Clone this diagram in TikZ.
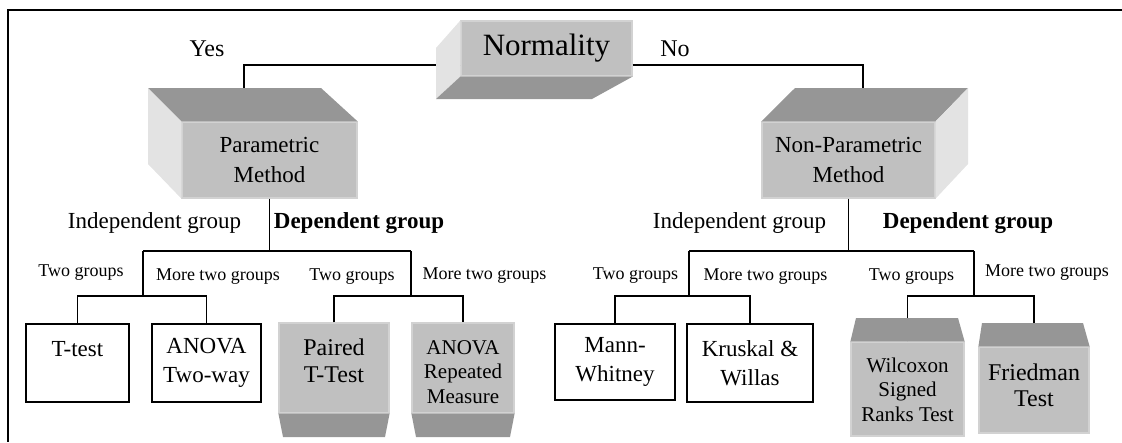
\documentclass[tikz,border=0pt]{standalone}
\usepackage{fontspec}
\setmainfont{Liberation Serif}
\definecolor{boxfront}{HTML}{C0C0C0}
\definecolor{boxedge}{HTML}{D2D2D2}
\definecolor{boxdark}{HTML}{969696}
\definecolor{boxlight}{HTML}{E3E3E3}
\begin{document}
\begin{tikzpicture}[x=1pt,y=-1pt,
  conn/.style={line width=1.6pt},
  face/.style={fill=boxfront, draw=boxedge, line width=1.2pt, inner sep=0pt, align=center},
  plainbox/.style={draw, line width=1.6pt, fill=white, inner sep=0pt, align=center,
                   font=\fontsize{23}{29}\selectfont},
  boxtxt/.style={inner sep=0pt, align=center},
  big/.style={inner sep=0pt, font=\fontsize{23}{27}\selectfont},
  small/.style={inner sep=0pt, font=\fontsize{18}{21}\selectfont}]
\useasboundingbox (0,0) rectangle (1122,442);

% frame
\draw[line width=2pt] (1122,10) -- (8,10) -- (8,442);

% front faces of the shaded boxes
\node[face, minimum width=171pt, minimum height=55pt, font=\fontsize{31}{35}\selectfont]
  (norm) at (546.5,48.5) {Normality};
\node[face, minimum width=175pt, minimum height=76pt, font=\fontsize{23}{30}\selectfont]
  (param) at (269.5,160) {Parametric\\Method};
\node[face, minimum width=173pt, minimum height=76pt, font=\fontsize{23}{30}\selectfont]
  (nonparam) at (848.5,160) {Non-Parametric\\Method};
\node[face, minimum width=110pt, minimum height=90pt] (paired) at (334,368) {};
\node[face, minimum width=102pt, minimum height=90pt] (anovar) at (463,368) {};
\node[face, minimum width=113pt, minimum height=94pt] (wil) at (907.5,389) {};
\node[face, minimum width=110pt, minimum height=86pt] (fried) at (1034,390) {};

% plain boxes
\node[plainbox, minimum width=103pt, minimum height=78pt] (ttest) at (77.5,363) {T-test\\{}};
\node[plainbox, minimum width=109pt, minimum height=78pt] (anova) at (206.5,363) {ANOVA\\Two-way};
\node[plainbox, minimum width=120pt, minimum height=76pt] (mann) at (615,362) {Mann-\\Whitney};
\node[plainbox, minimum width=126pt, minimum height=78pt] (krus) at (750,363) {Kruskal \&\\Willas};

% junction rows
\coordinate (yrow) at (0,65);
\coordinate (lvl2) at (0,251);
\coordinate (lvl3) at (0,296);
\coordinate (ptop) at (244,88);
\coordinate (ntop) at (863,88);
\coordinate (pl) at (143,251);
\coordinate (pr) at (411,251);
\coordinate (nl) at (689,251);
\coordinate (nr) at (974,251);

% connectors
\draw[conn] (norm.west |- yrow) -| (ptop);
\draw[conn] (norm.east |- yrow) -| (ntop);
\draw[conn] (param.south) -- (param.south |- lvl2);
\draw[conn] (pl) -- (pr);
\draw[conn] (pl) -- (pl |- lvl3);
\draw[conn] (pr) -- (pr |- lvl3);
\draw[conn] (ttest.north) |- (anova.north |- lvl3) -- (anova.north);
\draw[conn] (paired.north) |- (anovar.north |- lvl3) -- (anovar.north);
\draw[conn] (nonparam.south) -- (nonparam.south |- lvl2);
\draw[conn] (nl) -- (nr);
\draw[conn] (nl) -- (nl |- lvl3);
\draw[conn] (nr) -- (nr |- lvl3);
\draw[conn] (mann.north) |- (krus.north |- lvl3) -- (krus.north);
\draw[conn] (wil.north) |- (fried.north |- lvl3) -- (fried.north);

% side faces
\fill[boxlight] (436,48) -- (norm.north west) -- (norm.south west) -- (436,99) -- cycle;
\fill[boxdark] (norm.south west) -- (norm.south east) -- (592,99) -- (436,99) -- cycle;
\fill[boxdark] (148,88) -- (321,88) -- (param.north east) -- (param.north west) -- cycle;
\fill[boxlight] (148,88) -- (param.north west) -- (param.south west) -- (148,164) -- cycle;
\fill[boxdark] (nonparam.north west) -- (795,88) -- (968,88) -- (nonparam.north east) -- cycle;
\fill[boxlight] (nonparam.north east) -- (968,88) -- (968,164) -- (nonparam.south east) -- cycle;
\fill[boxdark] (paired.south west) -- (paired.south east) -- (385,437) -- (283,437) -- cycle;
\fill[boxdark] (anovar.south west) -- (anovar.south east) -- (510,437) -- (416,437) -- cycle;
\fill[boxdark] (wil.north west) -- (856,318) -- (958,318) -- (wil.north east) -- cycle;
\fill[boxdark] (fried.north west) -- (982,323) -- (1083,323) -- (fried.north east) -- cycle;

% texts of the shaded test boxes
\node[boxtxt, font=\fontsize{24}{27}\selectfont] (pairedtxt) at (334,360.5) {Paired\\T-Test};
\node[boxtxt, font=\fontsize{21}{24.5}\selectfont] (anovartxt) at (463,372) {ANOVA\\Repeated\\Measure};
\node[boxtxt, font=\fontsize{21}{24.5}\selectfont] (wiltxt) at (907.5,389.5) {Wilcoxon\\Signed\\Ranks Test};
\node[boxtxt, font=\fontsize{24}{26}\selectfont] (friedtxt) at (1034,385) {Friedman\\Test};

% branch labels
\node[big, font=\fontsize{24}{27}\selectfont] (yes) at (207,49) {Yes};
\node[big, font=\fontsize{24}{27}\selectfont] (no) at (675,49) {No};
\node[big] (indl) at (154.5,223) {Independent group};
\node[big, font=\fontsize{23}{27}\selectfont\bfseries] (depl) at (359,223) {Dependent group};
\node[big] (indr) at (739.5,223) {Independent group};
\node[big, font=\fontsize{23}{27}\selectfont\bfseries] (depr) at (968,223) {Dependent group};
\node[small] (l1) at (81,273) {Two groups};
\node[small] (l2) at (218,277) {More two groups};
\node[small] (l3) at (352,277) {Two groups};
\node[small] (l4) at (484.5,276) {More two groups};
\node[small] (r1) at (635.5,276) {Two groups};
\node[small] (r2) at (765.5,277) {More two groups};
\node[small] (r3) at (911.5,277) {Two groups};
\node[small] (r4) at (1047,273) {More two groups};
\end{tikzpicture}
\end{document}
